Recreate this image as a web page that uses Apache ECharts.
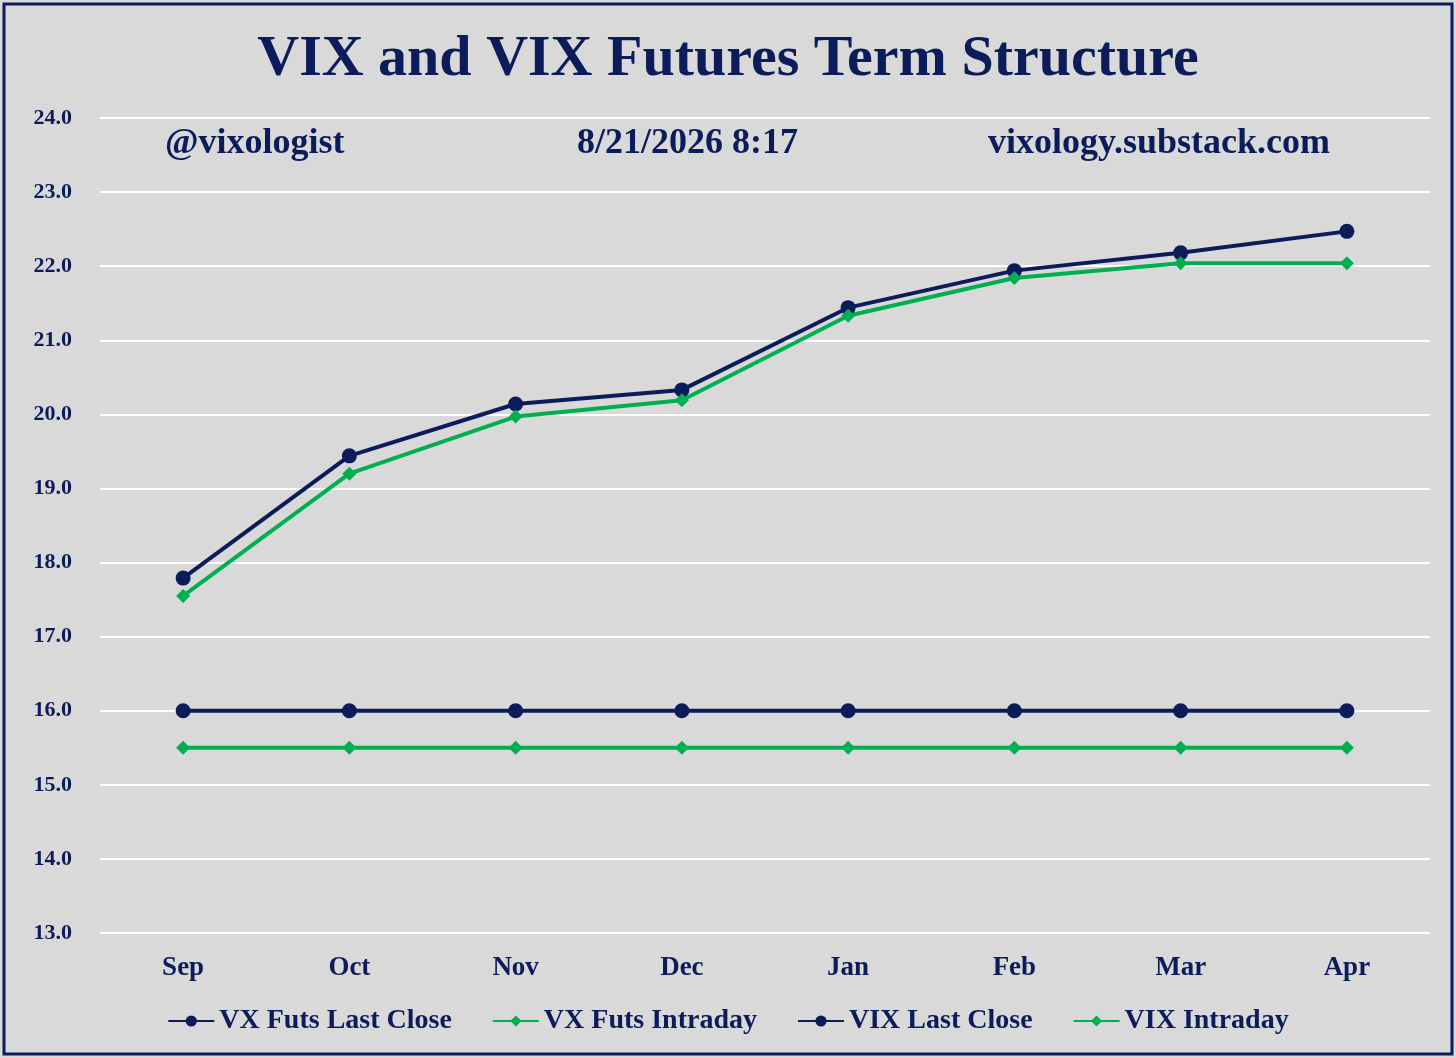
<!DOCTYPE html>
<html><head><meta charset="utf-8">
<script src="https://cdn.jsdelivr.net/npm/echarts@6/dist/echarts.min.js"></script>
<style>html,body{margin:0;padding:0;background:#fff}#c{width:1456px;height:1058px}</style>
</head><body><div id="c"></div>
<script>
const categories=['Sep','Oct','Nov','Dec','Jan','Feb','Mar','Apr'];
const vxLastClose=[17.79,19.44,20.14,20.33,21.44,21.94,22.18,22.47];
const vxIntraday=[17.55,19.20,19.97,20.19,21.33,21.84,22.04,22.04];
const vixLastClose=[16.0,16.0,16.0,16.0,16.0,16.0,16.0,16.0];
const vixIntraday=[15.5,15.5,15.5,15.5,15.5,15.5,15.5,15.5];
const navy='#0c1c5a', green='#00b050', font='Liberation Serif';
const chart=echarts.init(document.getElementById('c'));
function s(name,data,color,sym,size){return {name,type:'line',data,symbol:sym,symbolSize:size,
 lineStyle:{color,width:4},itemStyle:{color},z:name.startsWith('VX F')?3:2};}
chart.setOption({
 backgroundColor:'#d9d9d9',
 textStyle:{fontFamily:font},
 graphic:[{type:'rect',shape:{x:4,y:4,width:1448,height:1050},style:{fill:'none',stroke:navy,lineWidth:3}},
  {type:'text',left:165,top:126,style:{text:'@vixologist',font:'bold 36px "Liberation Serif"',fill:navy}},
  {type:'text',left:577,top:126,style:{text:'8/21/2026 8:17',font:'bold 36px "Liberation Serif"',fill:navy}},
  {type:'text',left:988,top:126,style:{text:'vixology.substack.com',font:'bold 36px "Liberation Serif"',fill:navy}}],
 title:{text:'VIX and VIX Futures Term Structure',left:'center',top:26,textStyle:{fontFamily:font,fontSize:58,fontWeight:'bold',color:navy}},
 grid:{left:100,right:26,top:118,bottom:125},
 legend:{bottom:18,left:'center',itemGap:40,itemWidth:46,itemHeight:14,textStyle:{fontFamily:font,fontSize:28,fontWeight:'bold',color:navy},
  data:['VX Futs Last Close','VX Futs Intraday','VIX Last Close','VIX Intraday']},
 xAxis:{type:'category',data:categories,boundaryGap:true,axisLine:{show:false},axisTick:{show:false},
  axisLabel:{fontFamily:font,fontSize:27,fontWeight:'bold',color:navy,margin:22}},
 yAxis:{type:'value',min:13,max:24,interval:1,axisLine:{show:false},axisTick:{show:false},
  splitLine:{lineStyle:{color:'#ffffff',width:2}},
  axisLabel:{formatter:v=>v.toFixed(1),fontFamily:font,fontSize:22,fontWeight:'bold',color:navy,margin:28}},
 series:[s('VX Futs Last Close',vxLastClose,navy,'circle',15),
  s('VX Futs Intraday',vxIntraday,green,'diamond',14),
  s('VIX Last Close',vixLastClose,navy,'circle',15),
  s('VIX Intraday',vixIntraday,green,'diamond',14)]
});
</script></body></html>
